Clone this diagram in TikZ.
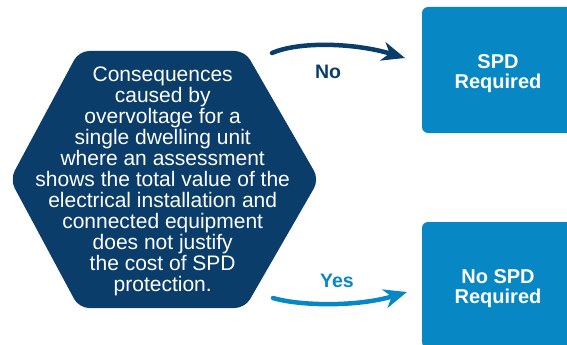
\documentclass[tikz,border=0pt]{standalone}
\usepackage{fontspec}
\setmainfont{Liberation Sans}
\usetikzlibrary{arrows.meta}
\definecolor{navy}{HTML}{0B3D6B}
\definecolor{sky}{HTML}{0787C3}
\begin{document}
\begin{tikzpicture}[x=1pt,y=-1pt,
  hextext/.style={text=white, align=center, font=\fontsize{21}{21}\selectfont, inner sep=0pt},
  outbox/.style={fill=sky, rounded corners=6pt, minimum width=152pt, minimum height=126pt, inner sep=0pt},
  boxtext/.style={text=white, align=center, font=\fontsize{20}{20}\selectfont\bfseries, inner sep=0pt},
  flowarrow/.style={line width=4.5pt, line cap=round, -{Stealth[length=23pt,width=19pt,inset=7pt]}},
  lbl/.style={font=\fontsize{19.5}{19.5}\selectfont\bfseries, inner sep=0pt}]
\useasboundingbox (0,0) rectangle (567,345);
\clip (0,0) rectangle (567,345);
\fill[navy, rounded corners=10pt] (79,51) -- (245,51) -- (319,179.5) -- (245,308) -- (79,308) -- (10,179.5) -- cycle;
\node[hextext] (hex) at (162.7,181) {Consequences\\caused by\\overvoltage for a\\single dwelling unit\\where an assessment\\shows the total value of the\\electrical installation and\\connected equipment\\does not justify\\the cost of SPD\\protection.};
\node[outbox] (req) at (498,70) {};
\node[boxtext] (reqt) at (498,73.5) {SPD\\Required};
\node[outbox] (noreq) at (498,285) {};
\node[boxtext] (noreqt) at (498,288.5) {No SPD\\Required};
\coordinate (noS) at (272,53);
\coordinate (noE) at (405,58);
\coordinate (yesS) at (273,298);
\coordinate (yesE) at (407,292);
\draw[flowarrow, navy] (noS) .. controls (300,41) and (355,43) .. (noE);
\node[lbl, text=navy] (nolbl) at (328,72) {No};
\draw[flowarrow, sky] (yesS) .. controls (300,306) and (357,307) .. (yesE);
\node[lbl, text=sky] (yeslbl) at (337,281) {Yes};
\end{tikzpicture}
\end{document}
